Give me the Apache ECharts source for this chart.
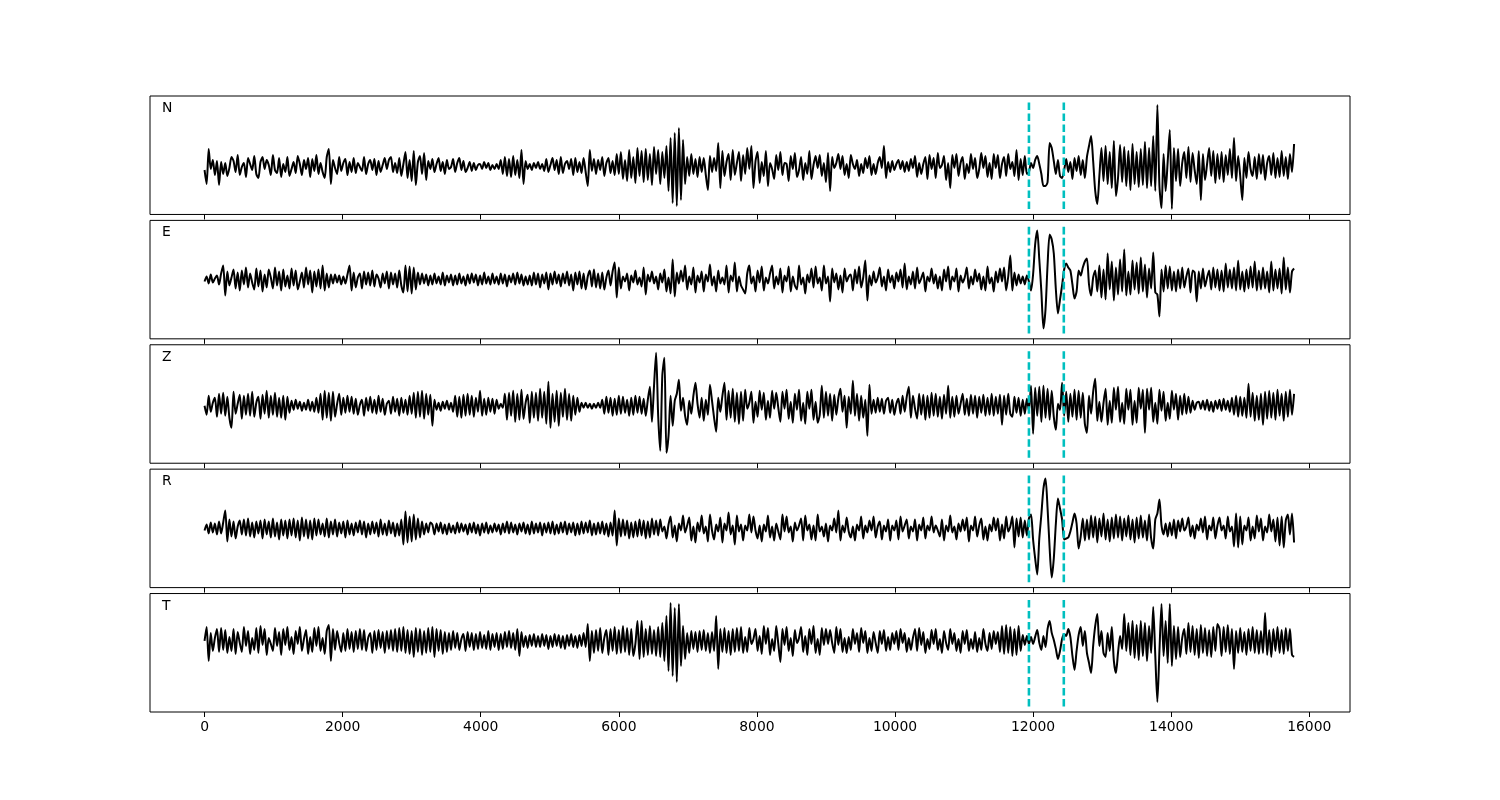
<!DOCTYPE html>
<html><head><meta charset="utf-8">
<script src="https://cdn.jsdelivr.net/npm/echarts@6/dist/echarts.min.js"></script>
<style>html,body{margin:0;padding:0;background:#fff}#c{width:1500px;height:800px}</style>
</head><body><div id="c"></div>
<script>
// sample spacing of the traces (samples)
const dt = 30;
const components = ['N', 'E', 'Z', 'R', 'T'];
const picks = [11940, 12445];
const xTicks = [0, 2000, 4000, 6000, 8000, 10000, 12000, 14000, 16000];

const traceN = [
-4,-18,17,-3,6,-9,5,-19,4,-8,
3,-10,-2,9,5,-6,11,-9,-1,3,
-11,8,2,-4,10,-8,-12,4,9,-3,
6,1,-9,11,-4,-7,8,-11,2,-6,
9,-10,-3,4,-7,10,2,-9,6,-3,
8,-11,7,-5,11,-8,3,-6,-12,9,
17,-18,6,-2,-8,9,-5,3,7,-9,
4,-6,8,-7,3,-1,-5,9,-8,2,
6,-4,7,-9,5,-6,1,8,-3,6,
9,-6,3,-7,8,-10,2,14,-12,6,
-15,15,-19,4,10,-8,13,-14,5,-3,
7,-6,2,8,-5,4,-8,6,-3,-1,
7,-6,3,8,-4,5,-6,-2,4,-5,
3,-4,1,2,-3,4,-2,3,-4,1,
-3,2,-3,6,-8,9,-10,7,-11,10,
-9,6,-12,16,-18,5,-3,2,-4,3,
-2,4,-3,2,-5,7,-6,1,8,-4,
6,-8,9,-7,2,5,-3,7,-9,8,
-6,4,-7,8,-6,-20,16,-5,7,-8,
6,-4,9,-10,3,8,-7,5,-9,12,
-8,14,-13,6,-15,16,-12,9,-17,18,
-10,15,-16,17,-14,12,-19,19,-8,16,
-18,14,-12,20,-25,28,-37,33,-40,38,
-34,26,-18,9,-10,12,-8,7,-11,9,
-6,8,-9,-24,10,-6,8,-5,23,-22,
15,-10,4,12,-14,16,-9,3,14,-15,
11,-8,18,-3,20,-22,5,14,-17,4,
-10,15,-20,3,-3,-13,11,-4,14,-9,
3,2,-15,10,-3,13,-11,-4,9,-14,
3,-8,15,-13,1,10,-2,11,-10,3,
-16,13,-25,9,-2,3,12,-3,10,-9,
2,-12,11,2,-3,6,-10,2,-7,8,
-2,10,-9,2,-8,3,9,-2,20,-12,
4,-6,5,-4,2,6,-3,5,-6,4,
-5,7,-2,10,-11,3,-8,2,9,-13,
11,-3,8,-12,13,-2,1,10,-14,3,
-22,11,-2,12,-10,3,9,-13,2,-7,
12,-3,8,-12,-3,13,-2,10,-11,3,
-13,12,-2,11,-12,2,9,-10,12,-3,
4,-10,16,-14,7,-9,10,-8,-6,3,
-2,6,10,2,-8,-20,-20,-16,23,18,
5,-8,6,-10,-12,-4,7,-6,4,-13,
8,-5,10,-9,6,-12,9,20,30,5,
-25,-38,-10,18,-15,20,-18,14,-22,25,
-30,-12,21,-16,19,-20,15,-24,22,-18,
14,-21,17,-19,24,-22,18,-20,30,-25,
61,-20,-42,12,-25,5,36,-43,18,-15,
17,-20,3,14,-12,19,-16,13,-4,-18,
15,-34,12,-14,2,18,-10,15,-17,12,
-13,14,-16,11,-9,17,-12,28,-15,10,
-10,-34,8,-12,14,-3,-10,9,-13,12,
-8,11,-14,3,10,-9,13,-12,8,-11,
15,-10,9,-13,12,-6,22
];

const traceE = [
-2,3,-4,5,-3,1,4,-5,6,14,
-16,8,-6,2,10,-9,7,-11,9,-5,
12,-8,6,-3,-10,11,-7,9,-12,5,
-8,10,2,-9,12,-6,8,-11,10,-7,
4,-9,11,-6,9,-10,-2,7,-8,12,
-5,9,-13,8,-7,10,-9,14,-11,6,
-8,5,-4,5,-3,4,-5,3,-4,5,
14,-11,7,-8,2,6,-9,8,-5,7,
-6,9,-7,5,1,-8,6,-4,8,-9,
7,-5,6,-8,9,-6,-13,14,-12,13,
-14,12,-10,7,-5,6,-4,5,-6,4,
-5,6,-4,3,-5,7,-6,4,-3,5,
-6,4,-5,6,-4,3,-6,5,-4,6,
-3,5,-6,4,-5,7,-4,3,-5,6,
-4,3,-5,6,-4,5,-7,4,-3,6,
-5,7,-4,5,-6,3,-5,4,-6,7,
-5,6,-8,5,-4,7,-10,6,-5,8,
-4,5,-7,6,-4,8,-6,5,-11,7,
-5,8,-9,6,-10,3,9,-7,10,-8,
6,-9,7,-10,2,9,-6,8,17,-18,
12,-9,3,-2,6,-11,4,-3,9,-5,
2,-7,12,-15,5,-2,8,-4,3,-10,
6,-3,10,-12,2,-14,20,-17,7,-4,
9,-2,14,-10,3,-5,12,-13,4,-3,
8,-12,5,-2,15,-6,3,-12,9,-4,
2,-5,14,-13,4,-2,17,-12,3,-6,
-10,-14,6,14,-4,3,-12,9,-3,13,
-11,2,-4,6,14,-9,3,-5,11,-13,
4,-2,13,-12,3,-6,-10,14,-5,2,
-14,5,-3,11,-8,13,-4,2,-11,14,
-4,3,-22,11,-3,6,-10,4,-13,11,
-2,3,5,-11,10,-4,13,-8,2,19,
-21,4,-6,8,-3,2,12,-7,3,-11,
10,-3,4,-9,7,-2,10,-8,16,-10,
3,-5,8,-9,12,-4,1,7,-12,3,
-2,11,-4,5,-9,3,-11,10,-2,13,
-10,3,-2,11,-12,4,-3,2,12,-9,
3,-5,10,-2,6,-10,3,-11,13,-4,
2,-12,8,-3,11,-2,12,-11,3,24,
-11,7,-6,5,-4,3,-5,4,-2,-11,
5,35,49,20,-12,-49,-30,15,45,40,
26,-10,-34,-20,-6,10,16,12,9,-5,
-19,-12,9,4,12,18,21,-5,-16,2,
9,-12,14,-18,10,-20,26,-10,18,-21,
12,-15,20,-12,30,-16,8,-15,19,-10,
17,-14,22,-12,15,-18,11,-9,27,-13,
-15,-37,10,-12,14,-9,13,-11,8,-12,
10,-9,12,-8,3,11,-13,9,7,-22,
8,-9,11,-7,2,9,-10,12,-8,10,
-11,9,-12,16,-8,10,-9,12,-11,19,
-10,8,-12,10,-9,13,-8,18,-11,9,
-10,12,-9,8,-13,18,-11,10,-9,11,
-14,22,-10,12,-13,8,11
];

const traceZ = [
0,-9,10,-6,3,8,-11,12,-8,13,
-10,9,-12,-22,14,-8,2,11,-13,10,
-9,12,-10,14,-11,3,9,-13,11,-8,
15,-12,10,-9,13,-11,8,-12,10,-14,
9,-7,5,-4,6,-3,4,-5,3,-4,
6,-5,4,-6,8,-7,12,-14,15,-12,
13,-15,14,-11,2,12,-9,8,-7,10,
-6,9,-8,7,-9,1,6,-10,8,-5,
9,-7,6,-8,10,-6,7,-9,2,5,
-8,9,-6,7,-10,8,-7,6,-9,10,
-8,13,-12,14,-11,15,-13,12,-9,11,
-20,6,-4,3,-5,4,-3,5,-4,3,
-6,10,-11,9,-12,11,-10,12,-9,10,
-11,8,-6,15,-10,7,-9,8,-6,7,
-8,6,-3,2,-2,12,-14,13,-10,15,
-16,12,-14,16,-13,3,11,-17,14,-12,
13,-15,17,-12,14,-18,24,-22,12,-16,
15,-20,13,-11,17,-14,12,-15,10,-9,
8,-6,3,-2,3,-2,2,-3,2,-2,
3,-2,6,-8,9,-7,8,-10,7,-9,
10,-8,9,-7,6,-10,8,-9,10,-7,
9,-8,7,-10,6,19,-16,20,53,-10,
-45,30,48,-47,-30,10,-20,5,12,26,
-5,8,-10,-19,5,-8,10,23,2,-12,
8,-15,6,-9,21,5,-12,-26,8,-6,
10,23,-14,15,-12,17,-16,13,-18,14,
-15,16,-3,3,14,-17,4,-11,15,-4,
13,-14,5,-12,15,-3,13,-2,-16,14,
-3,16,-13,4,-17,12,-4,16,-15,3,
-18,14,-3,16,-14,4,-17,-9,20,-12,
14,-10,12,-15,11,-9,8,17,-6,10,
-22,9,-8,25,-10,12,-15,10,-12,6,
-30,21,-8,6,-7,8,-6,7,-8,5,
8,-7,6,-9,2,7,-8,10,-6,9,
19,-12,10,-3,-13,12,-9,11,-14,10,
-12,13,-10,12,-11,9,-13,11,-8,20,
-12,9,-11,10,-8,2,12,-9,7,-10,
11,-8,10,-12,9,-7,11,-10,8,-9,
12,-10,9,-8,11,-19,10,-9,12,-8,
-11,9,-7,8,-10,6,-8,7,-5,20,
-28,18,-10,19,-16,20,-12,17,-14,15,
-11,-24,2,-4,23,-10,14,-16,12,-11,
16,-14,15,-12,13,-18,-27,10,-8,14,
27,-15,4,-16,3,17,-19,5,-17,18,
-4,19,-16,3,-18,17,-4,16,-19,5,
-17,18,-3,16,-27,17,-4,18,-16,3,
-18,16,-5,14,-15,3,-13,15,-4,12,
-14,10,-9,12,-8,9,-7,5,-4,3,
4,-3,5,-4,6,-5,4,-6,5,-3,
6,-5,7,-4,5,-6,8,-9,10,-11,
9,-10,8,-12,22,-11,13,-15,10,-14,
12,-19,14,-13,15,-12,13,-14,16,-10,
12,-15,14,-11,16,-9,12
];

const traceR = [
-2,4,-5,6,-4,5,-6,7,-5,6,
18,-13,9,-8,7,-10,2,8,-6,9,
-7,10,-8,6,-9,7,-5,8,-10,9,
-6,7,-9,10,-8,6,-11,9,-7,8,
-10,9,-7,10,-9,8,-12,11,-8,9,
-10,8,-11,10,-7,9,-6,5,-8,10,
-9,7,-6,9,-8,6,-5,7,-9,8,
-6,5,-7,6,-4,8,-6,7,-9,5,
-6,7,-5,6,-8,9,-6,5,-7,8,
-5,6,-8,5,-7,9,-16,17,-14,12,
-13,14,-11,10,-9,7,-6,5,-4,6,
4,-6,5,-3,6,-5,4,-6,5,-4,
3,-5,6,-4,5,-3,4,-6,5,-4,
6,-5,4,-7,5,-4,6,-5,3,-4,
5,-3,4,-6,5,-4,7,-5,6,-4,
4,-6,5,-3,6,-5,4,-6,7,-5,
5,-4,6,-7,5,-4,6,-5,7,-6,
4,-5,6,-4,7,-6,5,-4,6,-7,
5,-6,7,-5,6,-4,8,-7,5,-6,
6,-5,7,-6,5,-8,6,-7,18,-17,
10,-8,9,-7,8,-10,6,-9,7,-8,
9,-7,8,-10,7,-9,10,-6,8,-7,
9,-3,2,-10,4,12,-9,3,-13,5,
-2,13,-4,3,11,-12,2,-14,6,-3,
13,-5,2,-13,14,-2,-11,4,-3,11,
-14,5,-2,16,-6,3,-16,13,-3,4,
-12,3,-2,14,-4,12,-2,-10,3,-13,
4,-3,13,-9,2,-12,5,-3,-11,14,
-3,12,-4,2,-13,6,-2,3,10,-12,
13,-2,4,-11,3,-12,14,-3,2,-8,
5,-13,3,-2,10,-4,18,-12,3,-4,
11,-3,-9,2,-12,4,-2,12,-10,3,
-4,8,-2,12,-9,2,7,-11,3,-3,
9,-12,3,-2,8,-11,12,-3,3,9,
-10,2,-3,9,-12,4,-2,11,-10,3,
-2,12,-4,3,-2,-8,9,-12,3,-3,
13,-4,2,-11,5,-3,9,-2,11,-13,
3,-2,12,-8,3,10,-11,2,-12,4,
-3,11,-2,10,-12,4,-10,12,-3,2,
12,-19,10,-8,11,-9,8,-7,10,14,
-11,-30,-46,-10,14,40,50,20,-20,-49,
-30,5,30,20,9,-11,-10,-9,-3,6,
15,5,-20,-8,10,-12,9,-11,13,-9,
12,-14,10,-8,15,-11,9,-13,11,-10,
14,-9,12,-12,10,-8,13,-11,9,-14,
11,-10,13,-9,8,-12,14,-10,-20,9,
15,29,3,-6,5,-8,6,-7,9,-10,
8,-3,10,-2,2,11,-8,3,-10,4,
-2,10,-4,12,-11,3,-2,11,-10,3,
11,-2,3,-10,12,-3,2,-18,15,-19,
12,-16,3,-2,11,-12,2,-10,13,-3,
10,-12,2,-4,14,-3,9,-13,11,-17,
12,-19,8,14,-6,15,-14
];

const traceT = [
0,14,-20,8,-10,3,12,-11,13,-9,
11,-12,4,-10,12,-13,9,-2,-11,14,
-5,10,-13,3,-9,13,-12,15,-4,12,
-14,3,-3,-10,13,-5,9,-14,12,-4,
14,-9,4,-13,10,-3,14,-10,2,11,
-13,4,-11,13,-5,14,-10,3,-13,10,
16,-20,12,-9,10,-2,-11,8,-10,12,
-8,9,-11,10,-8,12,-9,11,-10,3,
8,-12,10,-9,11,-7,9,-12,10,-8,
11,-10,12,-11,13,-10,14,-12,11,-13,
10,-16,13,-11,12,-14,10,-12,13,-11,
14,-16,12,-10,11,-13,9,-11,8,-9,
10,-7,8,-9,2,7,-10,9,-6,8,
-9,7,-8,9,-7,6,-8,10,-9,7,
-6,8,-9,7,-8,9,-6,10,-7,8,
-9,12,-15,9,-6,5,-7,6,-5,7,
-6,5,-6,7,-5,6,-8,5,-6,7,
-5,6,-7,5,-8,6,-5,7,-6,5,
-7,6,-5,8,-6,17,-20,10,-12,11,
-10,13,-12,3,11,-14,12,-10,14,-13,
11,-12,15,-11,13,-14,12,-15,-3,20,
-18,20,-16,12,-14,15,-13,11,-15,14,
-16,18,-20,25,-30,38,-35,33,-41,37,
-25,15,-18,8,-12,10,-8,9,-11,10,
-9,11,-10,8,-12,9,-10,25,-28,12,
-11,13,-12,10,-14,12,-11,13,-10,14,
-12,4,-11,13,-3,2,12,-10,5,-13,
15,-3,13,-14,2,-10,15,-3,-21,12,
-4,14,-10,3,-15,11,-2,3,14,-11,
5,-14,12,-3,15,-12,2,-14,13,-4,
12,-3,11,-2,-12,14,-4,12,-11,3,
-12,4,-9,12,-3,8,-11,13,-2,10,
-12,3,-10,9,-2,-12,10,-3,11,-10,
4,-9,8,-3,10,-9,12,-2,8,-11,
3,-9,3,12,-10,13,-4,9,-12,2,
-8,11,-3,12,-9,2,-12,10,-2,-9,
12,-3,8,-10,2,-12,10,-3,11,-10,
2,-8,9,-11,3,-9,12,-3,-10,8,
-8,10,-3,9,-11,15,-13,16,-12,14,
-15,12,-14,15,-10,6,-4,5,-3,4,
-3,4,11,-2,-9,5,-6,12,20,8,
1,-8,-18,-10,2,7,5,12,4,-15,
-29,-10,6,14,-5,10,-12,-22,-32,-5,
15,27,-5,10,-12,-16,8,-10,14,-20,
-32,-12,5,-8,27,-10,18,-14,20,-17,
16,-19,20,-15,18,-20,15,-12,34,-15,
-61,-10,37,-15,20,-22,37,-25,15,-18,
14,-16,3,12,-13,18,-11,15,-14,12,
-17,16,-12,13,-15,11,-16,14,-10,17,
12,-15,14,-11,16,-13,12,-28,10,-12,
13,-11,9,-14,12,-10,14,-12,11,-13,
10,-12,28,-14,11,-16,12,-10,14,-12,
11,-13,13,-10,12,-14,-16
];

const traces = [traceN, traceE, traceZ, traceR, traceT];

// ---- layout (pixels) ----
const panelTop = [96, 220.38, 344.77, 469.15, 593.54];
const panelH = 118.46;
const yRange = [[-48.46, 70], [-59.35, 59.12], [-57.43, 61.03], [-59.12, 59.35], [-71.1, 47.36]];
const inset = 5.39;
const font = 'DejaVu Sans';

const grids = [], xAxes = [], yAxes = [], series = [], graphics = [];
traces.forEach((tr, i) => {
  grids.push({left: 150, width: 1200, top: panelTop[i], height: panelH,
    show: true, borderColor: '#000', borderWidth: 1, backgroundColor: '#fff'});
  const last = i === traces.length - 1;
  xAxes.push({type: 'value', gridIndex: i, min: -790, max: 16590, position: 'bottom',
    splitLine: {show: false},
    axisLine: {show: false, onZero: false},
    axisTick: {show: true, inside: false, length: 5, customValues: xTicks,
      lineStyle: {color: '#000', width: 1}},
    axisLabel: {show: last, customValues: xTicks, margin: 8, color: '#000',
      fontFamily: font, fontSize: 13.9, formatter: v => String(v)}
  });
  yAxes.push({type: 'value', gridIndex: i, min: yRange[i][0], max: yRange[i][1], show: false});
  series.push({type: 'line', xAxisIndex: i, yAxisIndex: i, showSymbol: false, symbol: 'none',
    smooth: 0.25, animation: false, silent: true,
    lineStyle: {color: '#000', width: 2},
    data: tr.map((v, k) => [k * dt, v]), z: 2});
  picks.forEach(p => {
    series.push({type: 'line', xAxisIndex: i, yAxisIndex: i, symbol: 'none', animation: false,
      silent: true, z: 3,
      lineStyle: {color: '#00bfbf', width: 2.6, type: [7.6, 3.4]},
      data: [[p, yRange[i][0] + inset], [p, yRange[i][1] - inset]]});
  });
  graphics.push({type: 'text', x: 162, y: panelTop[i] + 12.5, z: 10,
    style: {text: components[i], fill: '#000', fontSize: 13.9, fontFamily: font,
      verticalAlign: 'middle', align: 'left'}});
});

const chart = echarts.init(document.getElementById('c'), null, {renderer: 'canvas'});
chart.setOption({
  backgroundColor: '#fff',
  animation: false,
  grid: grids, xAxis: xAxes, yAxis: yAxes, series: series, graphic: graphics
});
</script>
</body></html>
